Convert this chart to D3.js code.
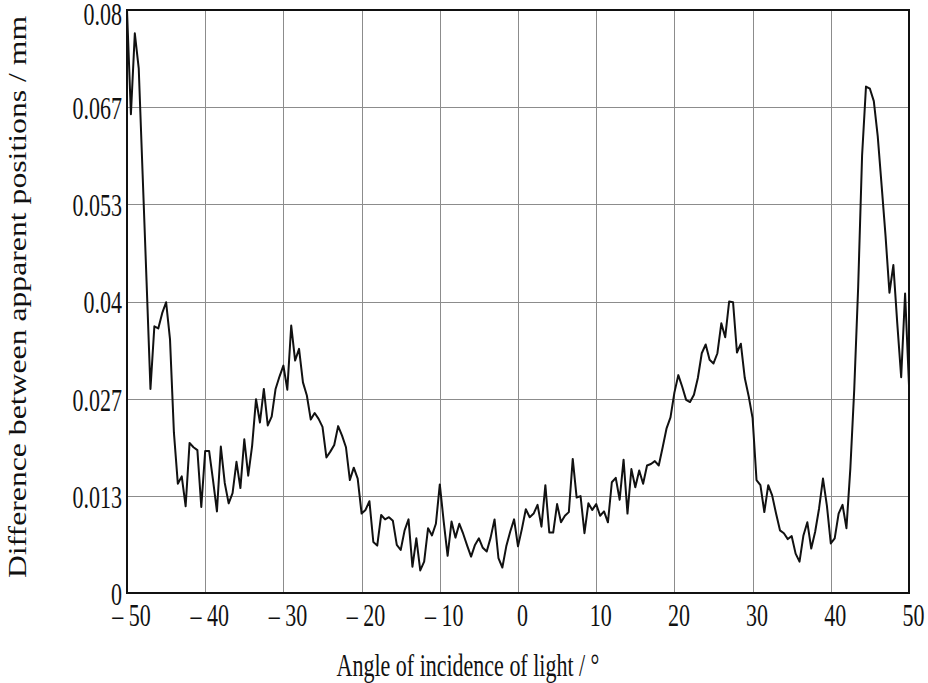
<!DOCTYPE html>
<html>
<head>
<meta charset="utf-8">
<script src="https://cdn.jsdelivr.net/npm/d3@7/dist/d3.min.js"></script>
<style>
  body { margin: 0; background: #fff; }
  text { font-family: "Liberation Serif", "Times New Roman", serif; fill: #111; }
</style>
</head>
<body>
<svg id="chart" width="928" height="683"></svg>
<script>
// Measured difference between apparent positions (mm), sampled every 0.5° from -50° to 50°
const angleStart = -50;
const angleStep = 0.5;
const differenceMm = [
  0.0800, 0.0657, 0.0768, 0.0720, 0.0574, 0.0428, 0.0280, 0.0366, 0.0363, 0.0384,
  0.0399, 0.0348, 0.0220, 0.0150, 0.0160, 0.0119, 0.0206, 0.0200, 0.0196, 0.0118,
  0.0195, 0.0195, 0.0155, 0.0112, 0.0201, 0.0151, 0.0123, 0.0137, 0.0180, 0.0144,
  0.0211, 0.0161, 0.0202, 0.0266, 0.0234, 0.0280, 0.0230, 0.0242, 0.0280, 0.0297,
  0.0312, 0.0279, 0.0367, 0.0319, 0.0335, 0.0289, 0.0271, 0.0238, 0.0247, 0.0239,
  0.0228, 0.0186, 0.0194, 0.0203, 0.0229, 0.0216, 0.0200, 0.0155, 0.0172, 0.0157,
  0.0109, 0.0114, 0.0126, 0.0070, 0.0065, 0.0107, 0.0101, 0.0104, 0.0099, 0.0066,
  0.0059, 0.0086, 0.0101, 0.0036, 0.0075, 0.0031, 0.0043, 0.0089, 0.0079, 0.0095,
  0.0149, 0.0098, 0.0051, 0.0098, 0.0076, 0.0095, 0.0081, 0.0065, 0.0050, 0.0066,
  0.0075, 0.0062, 0.0057, 0.0076, 0.0101, 0.0048, 0.0035, 0.0064, 0.0084, 0.0101,
  0.0064, 0.0088, 0.0115, 0.0104, 0.0109, 0.0121, 0.0091, 0.0148, 0.0083, 0.0083,
  0.0122, 0.0097, 0.0106, 0.0111, 0.0184, 0.0131, 0.0133, 0.0082, 0.0123, 0.0114,
  0.0122, 0.0106, 0.0112, 0.0097, 0.0152, 0.0158, 0.0128, 0.0183, 0.0109, 0.0170,
  0.0145, 0.0168, 0.0150, 0.0175, 0.0177, 0.0181, 0.0175, 0.0200, 0.0226, 0.0241,
  0.0275, 0.0299, 0.0283, 0.0265, 0.0262, 0.0272, 0.0295, 0.0329, 0.0341, 0.0320,
  0.0315, 0.0329, 0.0370, 0.0351, 0.0400, 0.0399, 0.0330, 0.0342, 0.0295, 0.0270,
  0.0240, 0.0155, 0.0148, 0.0111, 0.0148, 0.0134, 0.0109, 0.0086, 0.0082, 0.0074,
  0.0078, 0.0054, 0.0043, 0.0079, 0.0097, 0.0061, 0.0084, 0.0116, 0.0157, 0.0120,
  0.0068, 0.0075, 0.0109, 0.0121, 0.0089, 0.0171, 0.0280, 0.0420, 0.0600, 0.0695,
  0.0692, 0.0675, 0.0627, 0.0559, 0.0490, 0.0412, 0.0450, 0.0370, 0.0296, 0.0411,
  0.0285
];
const angles = differenceMm.map((_, i) => angleStart + i * angleStep);

const xTicks = [-50, -40, -30, -20, -10, 0, 10, 20, 30, 40, 50];
const xTickLabels = ["\u2013 50", "\u2013 40", "\u2013 30", "\u2013 20", "\u2013 10", "0", "10", "20", "30", "40", "50"];
const yTicks = [0, 0.0133333, 0.0266667, 0.04, 0.0533333, 0.0666667, 0.08];
const yTickLabels = ["0", "0.013", "0.027", "0.04", "0.053", "0.067", "0.08"];

const xTitle = "Angle of incidence of light / \u00b0";
const yTitle = "Difference between apparent positions / mm";

const plot = { left: 127, right: 909, top: 10, bottom: 593 };
const tall = 1.4;          // typeface is set tall and narrow
const fontFamily = "'Liberation Serif', 'Times New Roman', serif";

const svg = d3.select("#chart");

const x = d3.scaleLinear().domain([-50, 50]).range([plot.left, plot.right]);
const y = d3.scaleLinear().domain([0, 0.08]).range([plot.bottom, plot.top]);

// grid
const grid = svg.append("g").attr("stroke", "#8c8c8c").attr("stroke-width", 1);
grid.selectAll("line.vx").data(xTicks).join("line")
  .attr("x1", d => Math.round(x(d)) + 0.5).attr("x2", d => Math.round(x(d)) + 0.5)
  .attr("y1", plot.top).attr("y2", plot.bottom);
grid.selectAll("line.hy").data(yTicks).join("line")
  .attr("y1", d => Math.round(y(d)) + 0.5).attr("y2", d => Math.round(y(d)) + 0.5)
  .attr("x1", plot.left).attr("x2", plot.right);

// x axis labels
const xAxis = d3.axisBottom(x).tickValues(xTicks)
  .tickFormat((d, i) => xTickLabels[i]).tickSize(0);
const gx = svg.append("g").attr("transform", `translate(4,${plot.bottom})`).call(xAxis);
gx.select(".domain").remove();
gx.selectAll("text")
  .attr("font-size", 22).attr("fill", "#111").attr("font-family", fontFamily)
  .attr("y", 0).attr("dy", "0.72em")
  .attr("transform", `translate(0,11) scale(1,${tall})`);

// y axis labels
const yAxis = d3.axisLeft(y).tickValues(yTicks)
  .tickFormat((d, i) => yTickLabels[i]).tickSize(0);
const gy = svg.append("g").attr("transform", `translate(${plot.left},0)`).call(yAxis);
gy.select(".domain").remove();
gy.selectAll("text")
  .attr("font-size", 22).attr("fill", "#111").attr("font-family", fontFamily)
  .attr("x", -5).attr("y", 0).attr("dy", "0.34em")
  .attr("transform", d => `translate(0,${d === 0.08 ? 4 : 1}) scale(1,${tall})`);

// data line
const line = d3.line().x((d, i) => x(angles[i])).y(d => y(d));
svg.append("path").datum(differenceMm)
  .attr("fill", "none").attr("stroke", "#111").attr("stroke-width", 2)
  .attr("stroke-linejoin", "round").attr("d", line);

// frame
svg.append("rect")
  .attr("x", plot.left).attr("y", plot.top)
  .attr("width", plot.right - plot.left).attr("height", plot.bottom - plot.top)
  .attr("fill", "none").attr("stroke", "#111").attr("stroke-width", 2);

// axis titles
svg.append("text")
  .attr("transform", `translate(468,676) scale(1,${tall})`)
  .attr("text-anchor", "middle").attr("font-size", 22)
  .text(xTitle);

svg.append("text")
  .attr("transform", "translate(26,297) rotate(-90) scale(1.22,1)")
  .attr("text-anchor", "middle").attr("font-size", 26)
  .text(yTitle);
</script>
</body>
</html>
